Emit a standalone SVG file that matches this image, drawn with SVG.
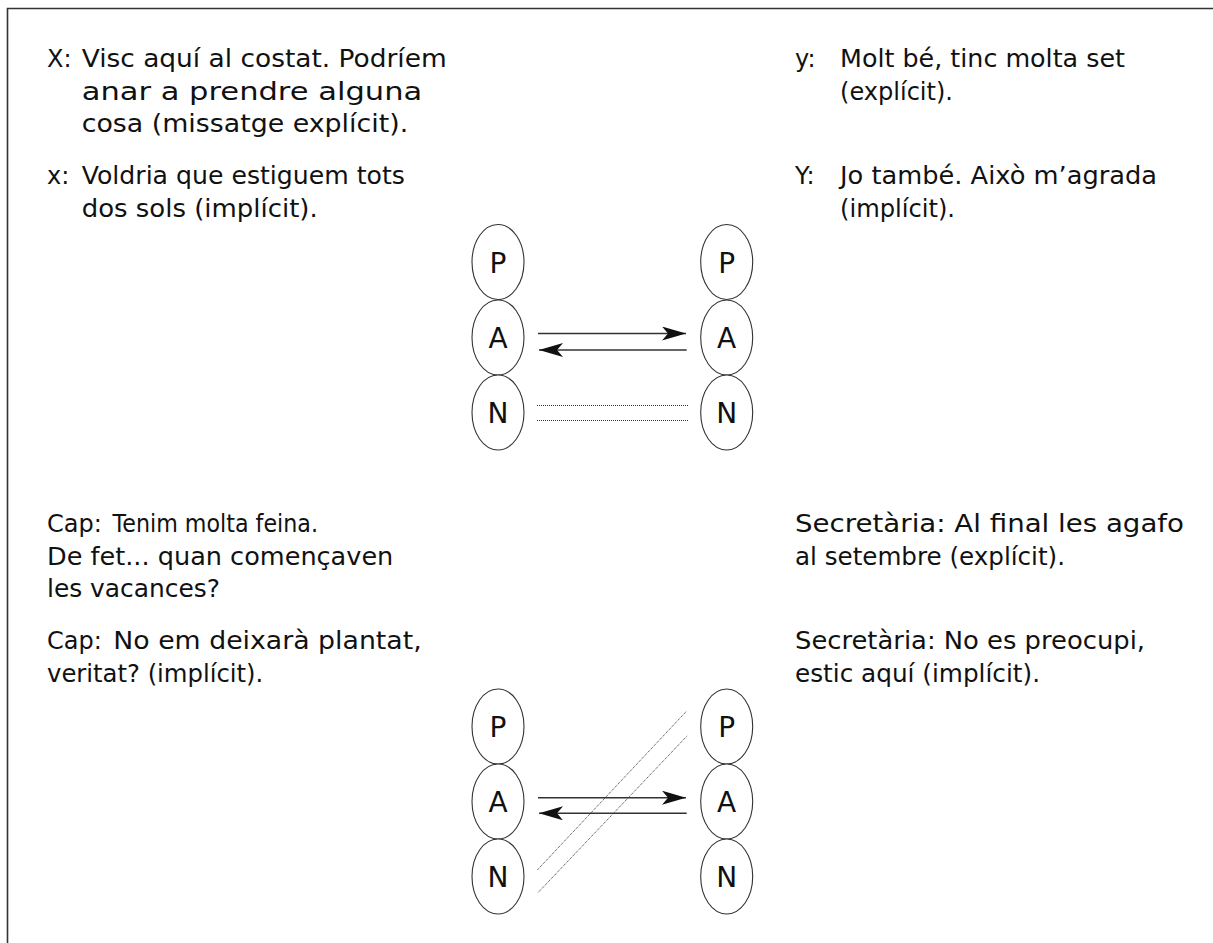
<svg xmlns="http://www.w3.org/2000/svg" width="1213" height="943" viewBox="0 0 1213 943">
  <defs>
    <style>
      .t { font-family: "DejaVu Sans", "Liberation Sans", sans-serif; font-size: 24px; fill: #111; }
      .lbl { font-family: "DejaVu Sans", "Liberation Sans", sans-serif; font-size: 28px; fill: #111; text-anchor: middle; dominant-baseline: central; }
      .node ellipse { fill: #fff; stroke: #333; stroke-width: 1.1; }
      .arr { stroke: #333; stroke-width: 1.6; fill: none; marker-end: url(#head); }
      .dot { stroke: #333; stroke-width: 1; stroke-dasharray: 1 1; fill: none; }
    </style>
    <marker id="head" viewBox="0 0 24 14" refX="24" refY="7" markerWidth="24" markerHeight="14" markerUnits="userSpaceOnUse" orient="auto">
      <path d="M0,0 L24,7 L0,14 L6,7 Z" fill="#111"/>
    </marker>
  </defs>

  <rect width="1213" height="943" fill="#fff"/>
  <path d="M7.5,943 V8.5 H1213" fill="none" stroke="#333" stroke-width="1.6"/>

  <!-- Top texts -->
  <g id="text-top-left">
    <text class="t" x="47" y="67">X:</text>
    <text class="t" x="81.7" y="67" textLength="365" lengthAdjust="spacingAndGlyphs">Visc aquí al costat. Podríem</text>
    <text class="t" x="81.7" y="99.5" textLength="340.5" lengthAdjust="spacingAndGlyphs">anar a prendre alguna</text>
    <text class="t" x="81.7" y="131.5" textLength="326.5" lengthAdjust="spacingAndGlyphs">cosa (missatge explícit).</text>
    <text class="t" x="47" y="184">x:</text>
    <text class="t" x="81.7" y="184" textLength="323.3" lengthAdjust="spacingAndGlyphs">Voldria que estiguem tots</text>
    <text class="t" x="81.7" y="216.5" textLength="236" lengthAdjust="spacingAndGlyphs">dos sols (implícit).</text>
  </g>
  <g id="text-top-right">
    <text class="t" x="795" y="67">y:</text>
    <text class="t" x="840" y="67" textLength="285" lengthAdjust="spacingAndGlyphs">Molt bé, tinc molta set</text>
    <text class="t" x="840" y="99.5" textLength="113" lengthAdjust="spacingAndGlyphs">(explícit).</text>
    <text class="t" x="795" y="184">Y:</text>
    <text class="t" x="840" y="184" textLength="317" lengthAdjust="spacingAndGlyphs">Jo també. Això m’agrada</text>
    <text class="t" x="840" y="216.5" textLength="115" lengthAdjust="spacingAndGlyphs">(implícit).</text>
  </g>

  <!-- Bottom texts -->
  <g id="text-bottom-left">
    <text class="t" x="47" y="532">Cap:</text>
    <text class="t" x="112.5" y="532" textLength="205.5" lengthAdjust="spacingAndGlyphs">Tenim molta feina.</text>
    <text class="t" x="47" y="564.5" textLength="346.3" lengthAdjust="spacingAndGlyphs">De fet... quan començaven</text>
    <text class="t" x="47" y="596.5" textLength="173" lengthAdjust="spacingAndGlyphs">les vacances?</text>
    <text class="t" x="47" y="649">Cap:</text>
    <text class="t" x="113.3" y="649" textLength="308.4" lengthAdjust="spacingAndGlyphs">No em deixarà plantat,</text>
    <text class="t" x="47" y="681.5" textLength="216.3" lengthAdjust="spacingAndGlyphs">veritat? (implícit).</text>
  </g>
  <g id="text-bottom-right">
    <text class="t" x="795" y="532" textLength="389" lengthAdjust="spacingAndGlyphs">Secretària: Al final les agafo</text>
    <text class="t" x="795" y="564.5" textLength="270" lengthAdjust="spacingAndGlyphs">al setembre (explícit).</text>
    <text class="t" x="795" y="649" textLength="350" lengthAdjust="spacingAndGlyphs">Secretària: No es preocupi,</text>
    <text class="t" x="795" y="681.5" textLength="245" lengthAdjust="spacingAndGlyphs">estic aquí (implícit).</text>
  </g>

  <!-- Top diagram nodes -->
  <g id="top-left-P" class="node"><ellipse cx="498" cy="262" rx="26" ry="37.5"/><text class="lbl" x="498" y="263">P</text></g>
  <g id="top-left-A" class="node"><ellipse cx="498" cy="337.5" rx="26" ry="37.5"/><text class="lbl" x="498" y="338">A</text></g>
  <g id="top-left-N" class="node"><ellipse cx="498" cy="412.5" rx="26" ry="37.5"/><text class="lbl" x="498" y="413">N</text></g>
  <g id="top-right-P" class="node"><ellipse cx="726.7" cy="262" rx="26" ry="37.5"/><text class="lbl" x="726.7" y="263">P</text></g>
  <g id="top-right-A" class="node"><ellipse cx="726.7" cy="337.5" rx="26" ry="37.5"/><text class="lbl" x="726.7" y="338">A</text></g>
  <g id="top-right-N" class="node"><ellipse cx="726.7" cy="412.5" rx="26" ry="37.5"/><text class="lbl" x="726.7" y="413">N</text></g>

  <!-- Bottom diagram nodes -->
  <g id="bottom-left-P" class="node"><ellipse cx="498" cy="726.5" rx="26" ry="37.5"/><text class="lbl" x="498" y="727.5">P</text></g>
  <g id="bottom-left-A" class="node"><ellipse cx="498" cy="801.5" rx="26" ry="37.5"/><text class="lbl" x="498" y="802.5">A</text></g>
  <g id="bottom-left-N" class="node"><ellipse cx="498" cy="876.5" rx="26" ry="37.5"/><text class="lbl" x="498" y="877.5">N</text></g>
  <g id="bottom-right-P" class="node"><ellipse cx="726.7" cy="726.5" rx="26" ry="37.5"/><text class="lbl" x="726.7" y="727.5">P</text></g>
  <g id="bottom-right-A" class="node"><ellipse cx="726.7" cy="801.5" rx="26" ry="37.5"/><text class="lbl" x="726.7" y="802.5">A</text></g>
  <g id="bottom-right-N" class="node"><ellipse cx="726.7" cy="876.5" rx="26" ry="37.5"/><text class="lbl" x="726.7" y="877.5">N</text></g>

  <!-- Connectors -->
  <g id="connectors">
    <line class="arr" x1="538" y1="333.5" x2="686" y2="333.5"/>
    <line class="arr" x1="686.7" y1="350" x2="539" y2="350"/>
    <line class="dot" x1="537" y1="405.5" x2="688" y2="405.5"/>
    <line class="dot" x1="537" y1="420.5" x2="688" y2="420.5"/>

    <line class="arr" x1="538" y1="797.7" x2="686" y2="797.7"/>
    <line class="arr" x1="686.7" y1="813.3" x2="539" y2="813.3"/>
    <line class="dot" x1="537.3" y1="870" x2="686.7" y2="711"/>
    <line class="dot" x1="538.3" y1="892.3" x2="687.3" y2="735.7"/>
  </g>
</svg>
